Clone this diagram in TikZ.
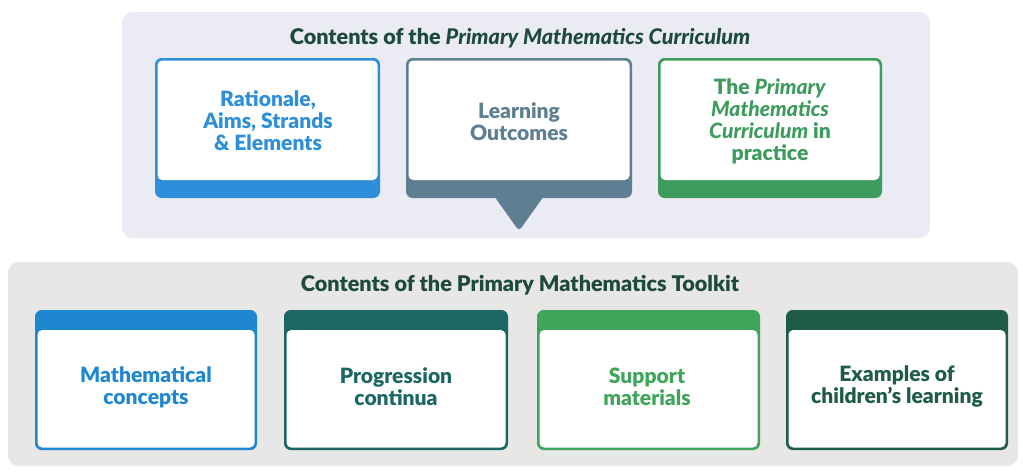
\documentclass[tikz,border=0pt]{standalone}
\usepackage{fontspec}
\setmainfont{Lato}[BoldFont={Lato Black}, BoldItalicFont={Lato Black Italic}]
\usepackage{tikz}
\usetikzlibrary{positioning}
\definecolor{paneltop}{HTML}{EAEBF3}
\definecolor{panelbot}{HTML}{E7E7E5}
\definecolor{titlegreen}{HTML}{1D4A3A}
\definecolor{ratblue}{HTML}{2D8FDA}
\definecolor{outslate}{HTML}{5E7F91}
\definecolor{pracgreen}{HTML}{3E9B5E}
\definecolor{conblue}{HTML}{1F87D0}
\definecolor{progteal}{HTML}{1C6764}
\definecolor{supgreen}{HTML}{3FA55B}
\definecolor{exdark}{HTML}{1F5C47}

\begin{document}
\begin{tikzpicture}[x=0.75pt,y=-0.75pt,
    paneltitle/.style={font=\fontsize{16.2}{16.5}\selectfont\bfseries, text=titlegreen},
    boxtext/.style={font=\fontsize{15.8}{16.5}\selectfont\bfseries, align=center}]
      \path[use as bounding box] (0,0) rectangle (1023,471);
      \fill[white] (0,0) rectangle (1023,471);

      % curriculum panel
      \fill[paneltop, rounded corners=8pt] (122,12) rectangle (930,238);
      \node[paneltitle] (curtitle) at (520,38) {Contents of the \textit{Primary Mathematics Curriculum}};

      \fill[ratblue, rounded corners=5pt]   (155,58) rectangle (380,198);
      \fill[white, rounded corners=3.5pt]   (157.5,60.5) rectangle (377.5,180);
      \node[boxtext, text=ratblue] (rationale) at (268,121) {Rationale,\\Aims, Strands\\\& Elements};

      \fill[outslate, rounded corners=3pt] (494,196) -- (519,231) -- (544,196) -- cycle;
      \fill[outslate, rounded corners=5pt]  (406,58) rectangle (632,198);
      \fill[white, rounded corners=3.5pt]   (408.5,60.5) rectangle (629.5,180);
      \node[boxtext, text=outslate] (outcomes) at (519,122) {Learning\\Outcomes};

      \fill[pracgreen, rounded corners=5pt] (658,58) rectangle (882,198);
      \fill[white, rounded corners=3.5pt]   (660.5,60.5) rectangle (879.5,180);
      \node[boxtext, text=pracgreen] (practice) at (770,121) {The \textit{Primary}\\\textit{Mathematics}\\\textit{Curriculum} in\\practice};

      % toolkit panel
      \fill[panelbot, rounded corners=8pt] (8,262) rectangle (1018,466);
      \node[paneltitle] (tooltitle) at (520,285) {Contents of the Primary Mathematics Toolkit};

      \fill[conblue, rounded corners=5pt]   (35,310) rectangle (257,450);
      \fill[white, rounded corners=3.5pt]   (37.5,330) rectangle (254.5,447.5);
      \node[boxtext, text=conblue] (concepts) at (146,387) {Mathematical\\concepts};

      \fill[progteal, rounded corners=5pt]  (284,310) rectangle (508,450);
      \fill[white, rounded corners=3.5pt]   (286.5,330) rectangle (505.5,447.5);
      \node[boxtext, text=progteal] (continua) at (396,387) {Progression\\continua};

      \fill[supgreen, rounded corners=5pt]  (537,310) rectangle (760,450);
      \fill[white, rounded corners=3.5pt]   (539.5,330) rectangle (757.5,447.5);
      \node[boxtext, text=supgreen] (support) at (647,387) {Support\\materials};

      \fill[exdark, rounded corners=5pt]    (786,310) rectangle (1008,450);
      \fill[white, rounded corners=3.5pt]   (788.5,330) rectangle (1005.5,447.5);
      \node[boxtext, text=exdark] (examples) at (897,386) {Examples of\\children's learning};
    \end{tikzpicture}
\end{document}
